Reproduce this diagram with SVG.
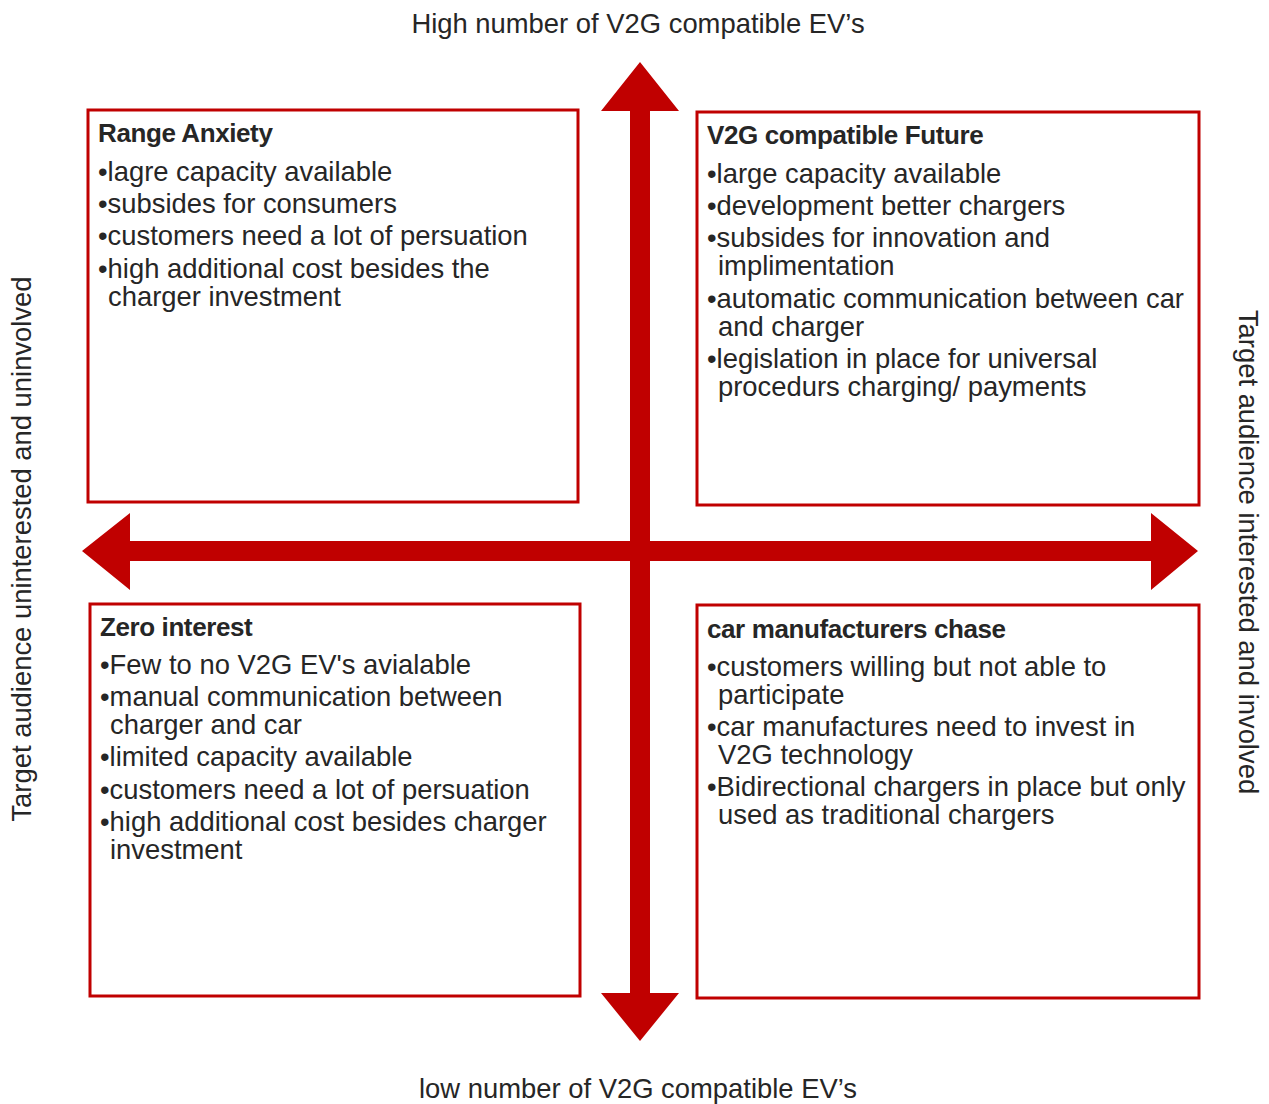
<svg xmlns="http://www.w3.org/2000/svg" width="1269" height="1104" viewBox="0 0 1269 1104">
<style>
.box{fill:#ffffff;stroke:#c00000;stroke-width:3}
.arrow{fill:#c00000}
text{font-family:"Liberation Sans",Arial,sans-serif;fill:#262626}
.t{font-size:26px;font-weight:bold;letter-spacing:-0.4px}
.b{font-size:27.4px}
.ax{font-size:27.4px;fill:#262626}
</style>
<rect width="1269" height="1104" fill="#ffffff"/>
<g id="connectors">
<polygon class="arrow" points="640,62 679,111 650,111 650,993 679,993 640,1041 601,993 630,993 630,111 601,111"/>
<polygon class="arrow" points="82,551 130,513 130,541 1151,541 1151,513 1198,551 1151,590 1151,561 130,561 130,590"/>
</g>
<g id="axis-top"><text class="ax" x="638" y="33" text-anchor="middle">High number of V2G compatible EV’s</text></g>
<g id="axis-bottom"><text class="ax" x="638" y="1098" text-anchor="middle">low number of V2G compatible EV’s</text></g>
<g id="axis-left"><text class="ax" transform="translate(31,549) rotate(-90)" text-anchor="middle">Target audience uninterested and uninvolved</text></g>
<g id="axis-right"><text class="ax" transform="translate(1239,552) rotate(90)" text-anchor="middle">Target audience interested and involved</text></g>
<g id="range-anxiety">
<rect class="box" x="88" y="110" width="490" height="392"/>
<text class="t" x="98" y="142">Range Anxiety</text>
<text class="b" x="98" y="181">•lagre capacity available</text>
<text class="b" x="98" y="213">•subsides for consumers</text>
<text class="b" x="98" y="245">•customers need a lot of persuation</text>
<text class="b" x="98" y="278">•high additional cost besides the</text>
<text class="b" x="108" y="306">charger investment</text>
</g>
<g id="v2g-future">
<rect class="box" x="697" y="112" width="502" height="393"/>
<text class="t" x="707" y="144">V2G compatible Future</text>
<text class="b" x="707" y="183">•large capacity available</text>
<text class="b" x="707" y="215">•development better chargers</text>
<text class="b" x="707" y="247">•subsides for innovation and</text>
<text class="b" x="718" y="275">implimentation</text>
<text class="b" x="707" y="308">•automatic communication between car</text>
<text class="b" x="718" y="336">and charger</text>
<text class="b" x="707" y="368">•legislation in place for universal</text>
<text class="b" x="718" y="396">procedurs charging/ payments</text>
</g>
<g id="zero-interest">
<rect class="box" x="90" y="604" width="490" height="392"/>
<text class="t" x="100" y="636">Zero interest</text>
<text class="b" x="100" y="674">•Few to no V2G EV's avialable</text>
<text class="b" x="100" y="706">•manual communication between</text>
<text class="b" x="110" y="734">charger and car</text>
<text class="b" x="100" y="766">•limited capacity available</text>
<text class="b" x="100" y="799">•customers need a lot of persuation</text>
<text class="b" x="100" y="831">•high additional cost besides charger</text>
<text class="b" x="110" y="859">investment</text>
</g>
<g id="car-manufacturers">
<rect class="box" x="697" y="605" width="502" height="393"/>
<text class="t" x="707" y="638">car manufacturers chase</text>
<text class="b" x="707" y="676">•customers willing but not able to</text>
<text class="b" x="718" y="704">participate</text>
<text class="b" x="707" y="736">•car manufactures need to invest in</text>
<text class="b" x="718" y="764">V2G technology</text>
<text class="b" x="707" y="796">•Bidirectional chargers in place but only</text>
<text class="b" x="718" y="824">used as traditional chargers</text>
</g>
</svg>
